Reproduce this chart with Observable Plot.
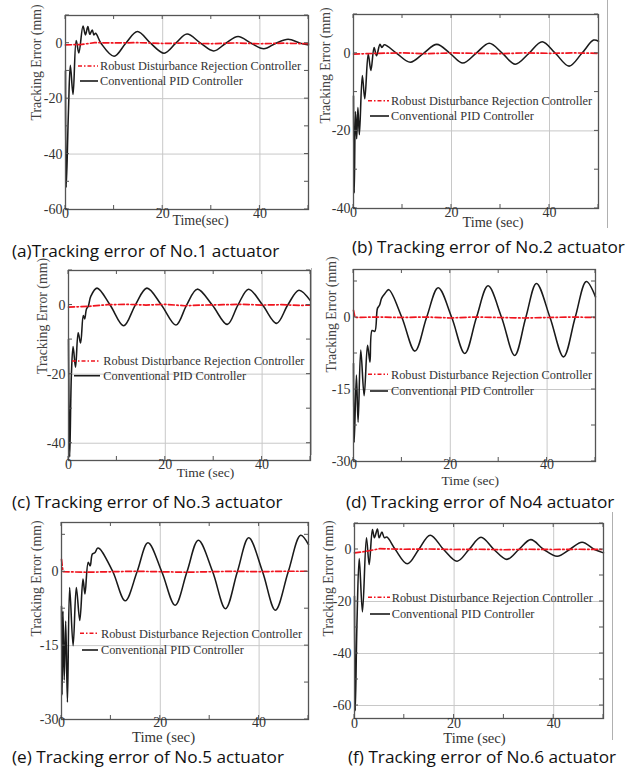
<!DOCTYPE html>
<html><head><meta charset="utf-8">
<script src="https://cdn.jsdelivr.net/npm/d3@7"></script>
<script src="https://cdn.jsdelivr.net/npm/@observablehq/plot@0.6"></script>
<style>
html,body{margin:0;padding:0;background:#fff;}
#fig{position:relative;width:627px;height:769px;overflow:hidden;background:#fff;}
.panel{position:absolute;}
.cap{position:absolute;font-family:"Open Sans","Noto Sans",sans-serif;font-size:17.2px;color:#111;white-space:nowrap;line-height:1;}
.art{position:absolute;background:#b0b0b0;width:1px;}
</style></head><body><div id="fig"></div>
<script>
// ---------- data ----------
const timeTicks = [0, 20, 40];
const timeMinor = [0, 10, 20, 30, 40, 50];
const legendLabels = ["Robust Disturbance Rejection Controller", "Conventional PID Controller"];
const yLabel = "Tracking Error (mm)";
const xLabels = ["Time(sec)", "Time (sec)", "Time (sec)", "Time (sec)", "Time (sec)", "Time (sec)"];
const captions = [
  "(a)Tracking error of No.1 actuator",
  "(b) Tracking error of No.2 actuator",
  "(c) Tracking error of No.3 actuator",
  "(d) Tracking error of No4 actuator",
  "(e) Tracking error of No.5 actuator",
  "(f) Tracking error of No.6 actuator"
];
const yTicksA = [0, -20, -40, -60], yMinorA = [10, 0, -10, -20, -30, -40, -50, -60], yGridA = [-20, -40];
const yTicksB = [0, -20, -40],      yMinorB = [10, 0, -10, -20, -30, -40],           yGridB = [-20];
const yTicksC = [0, -20, -40],      yMinorC = [10, 0, -10, -20, -30, -40],           yGridC = [-20, -40];
const yTicksD = [0, -15, -30],      yMinorD = [7.5, 0, -7.5, -15, -22.5, -30],        yGridD = [-15];
const yTicksE = [0, -15, -30],      yMinorE = [7.5, 0, -7.5, -15, -22.5, -30],        yGridE = [-15];
const yTicksF = [0, -20, -40, -60], yMinorF = [10, 0, -10, -20, -30, -40, -50, -60], yGridF = [-20, -40, -60];

// [time (s), tracking error (mm)]
const pidA = [[0,-10],[0.15,-52],[0.6,-25],[1.0,-8],[1.55,-18.5],[2.2,1],[2.75,-3.5],[3.6,6.2],[4.1,3],[4.6,6],[5.0,3.2],[5.5,4.8],[5.85,3],[6.2,3.6],[7.3,0],[10,-4.7],[12.4,0],[14.8,4.2],[17.5,0],[20.3,-3.6],[22.7,0],[25,3.3],[27.8,0],[30.5,-2.8],[33,0],[35.5,2.4],[38.2,0],[40.8,-2],[43.3,0],[45.8,1.4],[48.3,0],[50,-0.6]];
const pidB = [[0,-11],[0.15,-36],[0.4,-15],[0.65,-22],[0.9,-14],[1.2,-21],[1.8,-5.7],[2.3,-11.7],[3.0,-0.2],[3.55,-4.4],[4.2,1.5],[4.7,-0.6],[5.4,2.3],[5.8,1.5],[6.3,2.2],[8.8,0],[11.6,-2.3],[14.3,0],[17,2.3],[19.7,0],[22.3,-2.5],[25,0],[27.7,2.6],[30.4,0],[33,-2.8],[35.8,0],[38.5,3.0],[41.2,0],[44,-3.3],[46.6,0],[49,3.4],[50,3.1]];
const pidC = [[0,-10],[0.25,-44],[0.6,-20],[0.95,-12],[1.45,-18],[2.0,-8],[2.5,-11],[3.05,-3],[3.35,-4],[3.7,-1.2],[4.1,-0.3],[4.6,2.5],[5.9,4.9],[8.6,0],[11.4,-6],[13.8,0],[16.2,4.9],[19.2,0],[22.2,-5.8],[24.4,0],[26.6,4.6],[29.7,0],[32.8,-5.6],[35,0],[37.2,4.6],[40.1,0],[43,-5.3],[45.3,0],[47.6,4.3],[50,1.2]];
const pidD = [[0,-9.6],[0.15,-26],[0.6,-12],[0.95,-21.8],[1.5,-6.8],[2.2,-16.3],[2.9,-5.8],[3.4,-9.3],[3.85,-2.7],[4.4,-2.9],[4.95,1.9],[5.4,2.6],[5.8,4],[6.5,5],[7.3,5.8],[10,0],[12.7,-7],[15.1,0],[17.5,6.2],[20.3,0],[23,-7.5],[25.4,0],[27.8,6.6],[30.6,0],[33.3,-7.9],[35.6,0],[37.8,7.1],[40.6,0],[43.4,-8.2],[45.8,0],[48.1,7.5],[50,4.3]];
const pidE = [[0,-7],[0.12,-25],[0.3,-8],[0.55,-22],[0.85,-10],[1.2,-26.5],[1.65,-3.2],[2.35,-15],[3.0,-3.2],[3.7,-9.9],[4.35,-1.5],[4.75,-4.5],[5.4,1.9],[5.8,1.2],[6.25,3.6],[6.8,3.9],[7.3,4.8],[7.8,4.6],[10.4,0],[12.9,-5.9],[15.3,0],[17.5,5.9],[20.3,0],[23,-6.8],[25.4,0],[27.7,6.4],[30.6,0],[33.2,-7.5],[35.6,0],[37.9,6.9],[40.7,0],[43.3,-7.8],[45.9,0],[48.4,7.4],[50,5.5]];
const pidF = [[0,-18],[0.15,-62],[0.5,-28],[0.95,-3.5],[1.6,-24],[2.4,4.5],[2.95,-5.8],[3.6,7.7],[4.0,4.5],[4.6,7.9],[4.95,4.5],[5.5,6.7],[6.0,4.5],[6.5,4.8],[8.2,0],[10.6,-5.5],[12.9,0],[15.2,5.5],[17.9,0],[20.6,-4.5],[23,0],[25.4,4.7],[28,0],[30.6,-3.8],[33,0],[35.4,3.8],[38,0],[40.7,-2.6],[43.2,0],[45.7,2.8],[48.2,0],[50,-1.3]];

const rdrcA = [[0,-0.6],[3,-0.5],[6,0.2],[10,0.1],[15,0.2],[20,-0.1],[25,0.1],[30,-0.2],[35,0.1],[40,-0.2],[45,0],[50,-0.2]];
const rdrcB = [[0,-0.2],[5,0],[10,0.1],[15,-0.1],[20,0.1],[25,0],[30,-0.1],[35,0.1],[40,0],[45,0.1],[50,0]];
const rdrcC = [[0,-0.6],[4,-0.4],[8,0.1],[12,0.2],[16,0],[20,0.2],[24,-0.2],[28,0],[32,0.1],[36,0.2],[40,0],[44,0.1],[48,-0.1],[50,0]];
const rdrcD = [[0,1.5],[0.3,0],[5,0.1],[10,0],[15,0.1],[20,-0.1],[25,0.1],[30,0],[35,-0.1],[40,0],[45,0.1],[50,0]];
const rdrcE = [[0,2.5],[0.3,0],[5,-0.1],[10,0],[15,0.1],[20,0],[25,-0.1],[30,0],[35,0.1],[40,0],[45,0.1],[50,0.1]];
const rdrcF = [[0,-1.3],[2,-0.8],[5,0.3],[10,0.1],[15,0.2],[20,0],[25,0.1],[30,-0.1],[35,0.1],[40,0],[45,0.1],[50,0]];

// ---------- layout (page pixels) ----------
const SERIF = "'Liberation Serif','Times New Roman',serif";
const panels = [
  {pid:pidA, rdrc:rdrcA, yDomain:[-60,10], yTicks:yTicksA, yMinor:yMinorA, yGrid:yGridA, frame:[65,15,308,209], yLab:[-29,8], xLab:[13.5,15,14], xTickDy:8, leg:[13,33,35,51,66], cap:[12,242]},
  {pid:pidB, rdrc:rdrcB, yDomain:[-40,10], yTicks:yTicksB, yMinor:yMinorB, yGrid:yGridB, frame:[353,14,598,208], yLab:[-28,12], xLab:[17,18.7,14.3], xTickDy:8.7, leg:[15,36,38,86.7,102], cap:[352,238]},
  {pid:pidC, rdrc:rdrcC, yDomain:[-45,10], yTicks:yTicksC, yMinor:yMinorC, yGrid:yGridC, frame:[68,270,310,460], yLab:[-26.3,8.5], xLab:[16,16.7,13.5], xTickDy:8.3, leg:[4,32,35.3,91,105.7], cap:[12,492.5]},
  {pid:pidD, rdrc:rdrcD, yDomain:[-30,10], yTicks:yTicksD, yMinor:yMinorD, yGrid:yGridD, frame:[353,269,595,461], yLab:[-22,7], xLab:[-4.3,23,13.5], xTickDy:7.3, leg:[15,35,38,105.3,122], cap:[346,492.5]},
  {pid:pidE, rdrc:rdrcE, yDomain:[-30,10], yTicks:yTicksE, yMinor:yMinorE, yGrid:yGridE, frame:[61,522,308,719], yLab:[-25,15.5], xLab:[-21.5,22,14.8], xTickDy:7, leg:[19,37,40,111.3,128], cap:[12,747.5]},
  {pid:pidF, rdrc:rdrcF, yDomain:[-65,10], yTicks:yTicksF, yMinor:yMinorF, yGrid:yGridF, frame:[354,523,603,718], yLab:[-26,15.5], xLab:[-4.5,24,14.6], xTickDy:9, leg:[14,36,37.7,74.3,91], cap:[348,747.5]}
];

function innerTicks(xs, ys) {
  return (index, scales, values, dims) => {
    const g = d3.create("svg:g").attr("stroke", "#555").attr("stroke-width", 1);
    const l = dims.marginLeft, r = dims.width - dims.marginRight;
    const t = dims.marginTop, b = dims.height - dims.marginBottom;
    const len = 4;
    for (const v of xs) {
      const x = scales.x(v);
      g.append("line").attr("x1", x).attr("x2", x).attr("y1", b).attr("y2", b - len);
      g.append("line").attr("x1", x).attr("x2", x).attr("y1", t).attr("y2", t + len);
    }
    for (const v of ys) {
      const y = scales.y(v);
      g.append("line").attr("x1", l).attr("x2", l + len).attr("y1", y).attr("y2", y);
      g.append("line").attr("x1", r).attr("x2", r - len).attr("y1", y).attr("y2", y);
    }
    return g.node();
  };
}

function legendMark(leg) {
  const [x0, x1, tx, ry, by] = leg;
  return (index, scales, values, dims) => {
    const L = dims.marginLeft, T = dims.marginTop;
    const g = d3.create("svg:g").attr("font-family", SERIF).attr("font-size", 12.3)
      .attr("fill", "#333").attr("text-anchor", "start");
    g.append("line").attr("x1", L + x0).attr("x2", L + x1).attr("y1", T + ry).attr("y2", T + ry)
      .attr("stroke", "#f0141e").attr("stroke-width", 1.5).attr("stroke-dasharray", "4,2,1.5,2");
    g.append("text").attr("x", L + tx).attr("y", T + ry).attr("dy", "0.35em").text(legendLabels[0]);
    g.append("line").attr("x1", L + x0 + 2).attr("x2", L + x1).attr("y1", T + by).attr("y2", T + by)
      .attr("stroke", "#1a1a1a").attr("stroke-width", 1.6);
    g.append("text").attr("x", L + tx).attr("y", T + by).attr("dy", "0.35em").text(legendLabels[1]);
    return g.node();
  };
}

const fig = document.getElementById("fig");
const mL = 45, mR = 12, mT = 6, mB = 36;
panels.forEach((p, i) => {
  const [fl, ft, fr, fb] = p.frame;
  const chart = Plot.plot({
    width: fr - fl + mL + mR, height: fb - ft + mT + mB,
    marginLeft: mL, marginRight: mR, marginTop: mT, marginBottom: mB,
    x: {domain: [0, 50], axis: null},
    y: {domain: p.yDomain, axis: null},
    style: {background: "transparent", overflow: "visible"},
    marks: [
      Plot.ruleX(timeTicks.filter(d => d > 0), {stroke: "#c8c8c8", strokeWidth: 1}),
      Plot.ruleY(p.yGrid, {stroke: "#c8c8c8", strokeWidth: 1}),
      Plot.line(p.pid, {x: d => d[0], y: d => d[1], stroke: "#1a1a1a", strokeWidth: 1.55, curve: "catmull-rom"}),
      Plot.line(p.rdrc, {x: d => d[0], y: d => d[1], stroke: "#f0141e", strokeWidth: 1.7, strokeDasharray: "6,2.5,1.5,2.5"}),
      Plot.frame({stroke: "#555", strokeWidth: 1.3}),
      innerTicks(timeMinor, p.yMinor),
      Plot.text(timeTicks, {x: d => d, text: d => String(d), frameAnchor: "bottom", dy: p.xTickDy, fontFamily: SERIF, fontSize: 14, fill: "#333"}),
      Plot.text(p.yTicks, {y: d => d, text: d => String(d), frameAnchor: "left", dx: -3, textAnchor: "end", fontFamily: SERIF, fontSize: 14, fill: "#333"}),
      Plot.text([yLabel], {text: d => d, frameAnchor: "left", rotate: -90, dx: p.yLab[0], dy: p.yLab[1], fontFamily: SERIF, fontSize: 13.8, fill: "#444"}),
      Plot.text([xLabels[i]], {text: d => d, frameAnchor: "bottom", dx: p.xLab[0], dy: p.xLab[1], fontFamily: SERIF, fontSize: p.xLab[2], fill: "#333"}),
      legendMark(p.leg)
    ]
  });
  const div = document.createElement("div");
  div.className = "panel";
  div.style.left = (fl - mL) + "px";
  div.style.top = (ft - mT) + "px";
  div.appendChild(chart);
  fig.appendChild(div);
  const cap = document.createElement("div");
  cap.className = "cap";
  cap.style.left = p.cap[0] + "px";
  cap.style.top = p.cap[1] + "px";
  cap.textContent = captions[i];
  fig.appendChild(cap);
});
// thin scan-edge lines visible in the reference
[[607, 0, 228], [310.5, 268, 455], [611.5, 512, 740]].forEach(([x, y0, y1]) => {
  const d = document.createElement("div");
  d.className = "art";
  d.style.left = x + "px"; d.style.top = y0 + "px"; d.style.height = (y1 - y0) + "px";
  fig.appendChild(d);
});
</script></body></html>
